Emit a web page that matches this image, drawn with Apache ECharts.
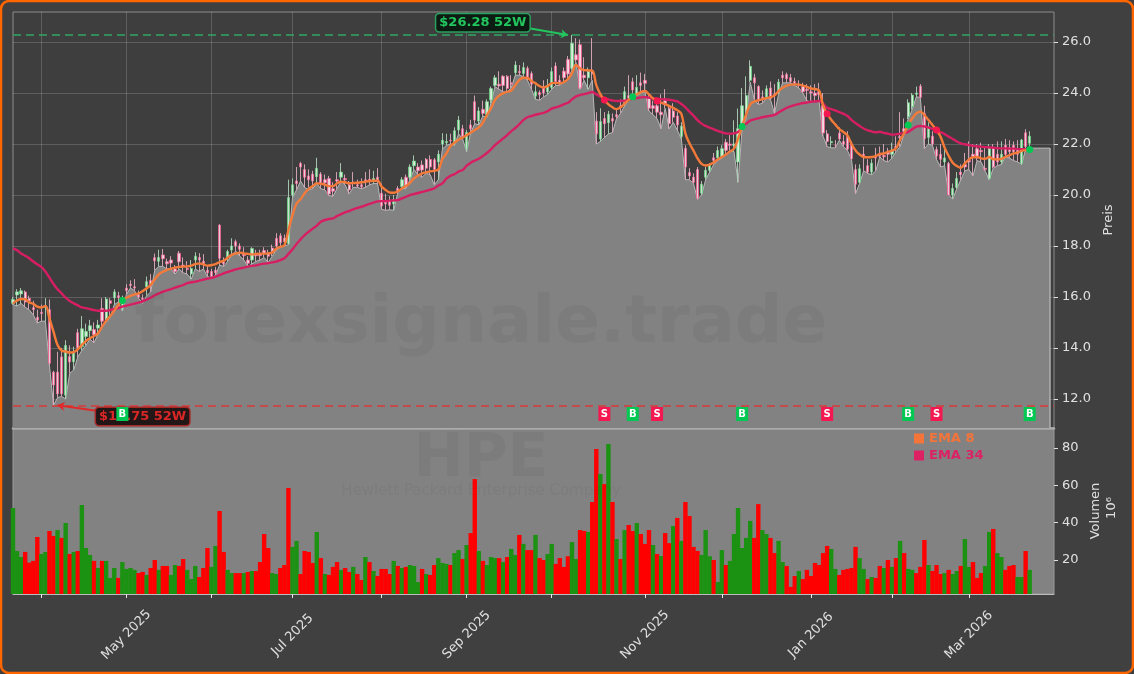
<!DOCTYPE html>
<html><head><meta charset="utf-8">
<style>html,body{margin:0;padding:0;background:#404040}#c{width:1134px;height:674px}</style>
<script src="https://cdn.jsdelivr.net/npm/echarts@6/dist/echarts.min.js"></script>
</head><body><div id="c"></div>
<script>
const monthTicks=[7,28,49,69,91,112,133,156,175,197,217,236];
const monthLabels={28:'May 2025',69:'Jul 2025',112:'Sep 2025',156:'Nov 2025',197:'Jan 2026',236:'Mar 2026'};
const priceTicks=[12,14,16,18,20,22,24,26];
const volumeTicks=[20,40,60,80];
const opens=[15.75,16.08,16.12,16.2,15.95,15.58,15.2,15.4,15.6,15.5,13.05,13.05,13.65,12.15,13.66,13.46,14.6,14.05,14.45,14.68,14.72,14.78,15.55,15.15,15.85,15.97,16.05,15.55,16.35,16.5,16.4,16.1,15.95,16.4,16.65,17.54,17.4,17.65,17.38,17.45,17.1,17.72,17.25,17.13,16.9,17.45,17.55,17.4,17.05,17.0,17.05,18.82,17.4,17.54,17.84,18.17,18.0,17.68,17.45,17.45,17.7,17.7,17.82,17.7,17.92,18.3,18.4,18.3,18.1,20.0,20.55,21.24,21.0,20.75,20.82,20.72,20.82,20.6,20.65,20.25,20.6,20.7,20.65,20.4,20.5,20.4,20.4,20.6,20.62,20.55,20.7,20.07,19.75,19.8,19.65,20.26,20.33,20.7,20.7,21.15,21.1,21.18,21.4,21.4,21.38,21.3,22.0,22.05,22.15,22.03,22.55,22.6,21.83,22.75,23.66,22.9,23.36,23.14,23.73,24.3,24.35,24.66,24.66,24.4,24.8,24.85,24.77,24.97,24.77,23.88,24.02,24.2,24.05,24.22,25.06,24.5,24.86,25.32,24.97,25.5,25.9,24.7,24.6,24.85,22.9,22.2,23.0,22.84,23.0,23.15,23.5,23.6,23.9,24.44,23.95,24.4,24.5,23.8,23.5,23.5,23.25,23.7,23.4,23.3,23.1,22.3,21.83,20.88,20.7,21.0,20.07,20.7,20.97,21.46,21.46,21.49,22.07,22.0,21.95,21.3,22.7,23.3,24.5,24.6,24.26,23.85,23.84,24.2,23.95,24.04,24.7,24.73,24.6,24.45,24.35,24.25,24.15,24.05,24.0,24.05,23.52,22.4,22.05,21.95,22.43,22.1,22.3,22.0,21.0,20.5,21.6,21.15,20.9,21.5,21.6,21.55,21.68,21.6,21.9,22.3,22.6,23.07,23.46,23.95,24.27,23.2,22.26,22.31,21.79,21.6,21.3,21.24,20.0,20.3,20.9,21.2,21.35,21.6,21.82,21.75,21.05,20.65,21.83,21.6,21.3,21.95,21.85,21.95,21.8,21.24,22.44,22.03];
const closes=[15.9,16.2,16.24,15.8,15.85,15.5,15.1,15.35,15.65,13.4,12.55,12.2,12.2,14.1,13.45,13.8,14.0,14.75,14.65,14.87,14.52,14.9,15.05,15.92,15.75,16.2,15.98,15.95,16.25,16.45,16.35,16.0,15.9,16.6,16.5,17.42,17.55,17.5,17.3,17.33,17.0,17.38,17.2,17.08,17.12,17.6,17.45,17.3,16.95,16.8,16.95,17.52,17.3,17.78,18.0,18.0,17.87,17.62,17.32,17.9,17.62,17.62,17.7,17.6,17.8,18.0,18.13,18.17,19.9,20.4,20.45,21.1,20.7,20.6,20.55,21.05,20.48,20.48,20.04,20.15,20.55,20.9,20.6,20.2,20.45,20.35,20.32,20.55,20.58,20.65,20.55,19.57,19.65,19.6,19.83,20.17,20.6,20.35,21.1,21.33,20.95,20.98,21.05,21.1,21.0,21.6,22.15,22.1,22.12,22.52,22.94,22.3,22.45,22.6,22.94,23.3,23.2,23.66,24.18,24.6,24.28,24.3,24.18,24.35,25.1,24.8,25.0,24.57,24.35,24.05,23.93,24.0,24.3,24.84,24.45,24.4,24.6,24.75,25.95,25.3,24.2,24.6,24.85,24.75,22.4,22.88,22.8,23.17,22.9,23.08,23.42,24.05,23.8,24.12,24.22,24.3,24.38,23.4,23.4,23.25,23.15,23.55,22.8,23.05,22.75,22.7,21.1,20.75,20.5,19.87,20.42,20.97,21.16,21.36,21.75,21.82,21.75,21.95,22.0,22.6,23.5,23.9,25.05,24.4,23.7,23.8,24.17,23.78,23.9,24.43,24.6,24.56,24.45,24.38,24.3,24.05,24.1,24.0,23.9,23.95,22.43,22.1,22.1,21.95,22.2,22.0,21.8,21.42,20.42,21.03,21.5,20.9,21.25,21.45,21.52,21.5,21.6,21.75,21.85,22.25,22.5,23.62,23.92,24.0,23.83,22.22,22.68,22.0,21.53,21.4,21.45,20.0,20.26,20.65,20.8,21.1,21.3,21.5,21.45,21.7,21.0,21.83,21.1,21.3,21.6,21.6,21.7,21.7,21.6,22.16,21.9,22.31];
const highs=[16.0,16.3,16.35,16.25,16.05,15.85,15.5,15.7,15.95,15.9,13.1,13.85,14.0,14.3,14.1,14.05,14.75,15.25,14.95,15.1,15.0,15.1,15.95,16.0,15.95,16.3,16.2,16.05,16.5,16.65,16.7,16.25,16.1,16.8,16.9,17.7,17.85,17.88,17.5,17.6,17.25,17.8,17.55,17.4,17.45,17.75,17.72,17.68,17.2,17.1,17.18,18.85,17.55,17.85,18.3,18.25,18.1,17.95,17.6,17.95,17.85,17.85,17.95,17.85,18.05,18.5,18.5,18.45,20.6,20.65,21.1,21.3,21.2,21.0,20.95,21.46,20.9,20.8,20.75,20.5,20.9,21.25,20.8,20.55,20.9,20.6,20.65,20.9,21.0,20.95,21.05,20.45,20.05,19.95,20.0,20.35,20.7,20.8,21.2,21.55,21.25,21.35,21.45,21.55,21.45,21.75,22.42,22.4,22.4,22.65,23.1,22.75,22.55,22.95,23.9,23.45,23.7,23.75,24.25,24.7,24.85,24.7,24.7,24.7,25.25,25.1,25.2,25.05,24.85,24.3,24.1,24.5,24.55,25.0,25.2,24.7,25.0,25.45,26.28,26.15,26.1,25.4,25.0,26.15,23.25,23.4,23.25,23.3,23.2,23.4,23.75,24.25,24.7,24.6,24.7,24.8,24.75,23.95,23.7,23.75,23.95,24.15,23.5,23.6,23.25,22.85,21.95,21.05,20.85,21.1,20.55,21.1,21.25,21.65,21.9,21.95,22.2,22.35,22.93,23.39,24.2,24.65,25.28,24.75,24.3,24.1,24.3,24.45,24.35,24.55,24.85,24.8,24.75,24.6,24.5,24.4,24.35,24.3,24.35,24.4,24.0,22.55,22.3,22.15,22.65,22.35,22.5,22.1,21.2,21.2,21.9,21.4,21.4,21.85,21.9,22.0,21.85,22.05,22.3,23.25,23.0,23.75,24.0,24.25,24.35,23.5,22.85,22.5,21.9,22.0,21.85,21.3,20.45,20.9,21.2,21.65,22.1,22.0,22.0,22.05,21.85,22.0,22.0,22.1,22.1,22.2,22.15,22.1,22.15,22.2,22.58,22.5];
const lows=[15.7,15.65,15.75,15.6,15.5,15.3,14.98,15.05,15.05,13.3,11.75,12.05,12.1,12.0,13.0,13.14,13.65,13.9,14.1,14.35,14.2,14.55,14.85,15.0,15.2,15.7,15.8,15.45,16.1,16.35,16.25,15.95,15.75,16.05,16.2,17.05,17.2,17.2,17.1,17.1,16.9,17.1,16.95,16.9,16.7,17.1,17.0,17.1,16.8,16.75,16.85,17.25,17.2,17.4,17.65,17.8,17.6,17.45,17.2,17.3,17.4,17.45,17.55,17.35,17.6,17.85,17.95,18.0,18.05,19.9,20.2,20.55,20.3,20.2,20.25,20.45,20.25,20.2,19.98,19.95,20.25,20.55,20.4,20.05,20.3,20.3,20.25,20.3,20.4,20.45,20.45,19.44,19.4,19.42,19.4,20.1,20.25,20.25,20.6,21.0,20.8,20.7,20.85,20.8,20.4,20.6,21.8,21.95,22.0,21.95,22.4,22.2,21.7,22.45,22.8,22.75,23.1,23.05,23.6,24.25,24.15,24.05,24.05,24.2,24.7,24.7,24.65,24.5,24.15,23.75,23.72,23.85,23.95,24.15,24.3,24.3,24.45,24.55,24.9,25.2,24.15,24.5,24.15,24.5,22.0,22.1,22.25,22.4,22.45,23.0,23.2,23.5,23.75,23.95,23.9,24.0,24.05,23.3,23.15,23.0,22.6,23.4,22.6,22.85,22.55,22.2,20.6,20.6,20.45,19.83,20.0,20.6,20.9,21.2,21.35,21.45,21.6,21.75,21.7,20.5,22.6,23.0,24.43,23.75,23.55,23.6,23.8,23.75,23.2,23.95,24.4,24.4,24.4,24.3,24.2,24.0,23.7,23.65,23.68,23.68,22.3,21.9,21.85,21.85,22.15,21.9,21.75,21.4,20.05,20.45,20.95,20.85,20.8,20.95,21.5,21.35,21.3,21.45,21.7,21.9,22.4,22.98,23.35,23.85,23.83,21.82,22.0,21.95,21.4,21.1,21.15,20.0,19.84,20.25,20.6,20.95,21.0,20.75,21.35,21.3,20.95,20.6,21.05,21.15,21.2,21.5,21.45,21.35,21.3,21.2,21.8,21.84];
const areaTail=[21.84,21.84,21.84,21.84,21.84];
const ema8=[15.75,15.86,15.92,15.91,15.79,15.73,15.62,15.59,15.65,15.16,14.64,14.12,13.9,13.86,13.82,13.84,13.95,14.12,14.27,14.38,14.47,14.58,14.84,15.07,15.25,15.46,15.69,15.86,15.97,16.04,16.1,16.14,16.23,16.34,16.47,16.69,16.89,16.99,17.06,17.11,17.15,17.18,17.19,17.2,17.23,17.29,17.32,17.28,17.23,17.25,17.29,17.37,17.42,17.54,17.65,17.71,17.74,17.71,17.69,17.67,17.69,17.7,17.7,17.71,17.74,17.9,17.97,18.03,18.63,19.2,19.67,19.83,20.07,20.24,20.35,20.46,20.44,20.41,20.35,20.35,20.46,20.52,20.5,20.46,20.47,20.48,20.5,20.52,20.55,20.56,20.56,20.33,20.2,20.1,20.09,20.14,20.26,20.35,20.48,20.65,20.76,20.85,20.89,20.93,20.95,21.0,21.4,21.63,21.92,22.05,22.18,22.25,22.35,22.44,22.55,22.65,22.84,23.14,23.4,23.73,23.9,23.99,24.05,24.1,24.31,24.51,24.6,24.59,24.47,24.38,24.27,24.22,24.27,24.39,24.4,24.38,24.43,24.54,24.77,25.1,24.97,24.9,24.89,24.88,24.31,23.96,23.73,23.56,23.44,23.37,23.44,23.59,23.73,23.86,23.95,24.04,24.08,23.95,23.79,23.69,23.62,23.57,23.49,23.42,23.33,23.18,22.42,22.03,21.74,21.44,21.22,21.16,21.19,21.28,21.4,21.49,21.59,21.71,21.82,22.21,22.69,23.16,23.56,23.67,23.71,23.76,23.8,23.84,23.91,24.08,24.21,24.29,24.33,24.34,24.33,24.29,24.24,24.18,24.16,24.1,23.52,23.19,22.95,22.77,22.59,22.47,22.34,22.01,21.75,21.59,21.49,21.48,21.49,21.53,21.61,21.63,21.69,21.74,21.83,22.16,22.42,22.75,23.0,23.2,23.27,23.14,22.94,22.75,22.55,22.29,21.86,21.53,21.27,21.14,21.07,21.24,21.4,21.48,21.49,21.44,21.42,21.49,21.41,21.4,21.42,21.5,21.56,21.63,21.66,21.73,21.76,21.79];
const ema34=[17.91,17.83,17.71,17.62,17.52,17.39,17.28,17.18,17.0,16.76,16.51,16.3,16.14,15.97,15.84,15.75,15.67,15.59,15.56,15.52,15.49,15.46,15.46,15.46,15.49,15.53,15.56,15.62,15.66,15.7,15.74,15.78,15.83,15.9,15.97,16.07,16.14,16.21,16.26,16.31,16.37,16.42,16.47,16.54,16.58,16.6,16.64,16.68,16.72,16.75,16.8,16.86,16.93,16.98,17.03,17.08,17.12,17.15,17.19,17.22,17.24,17.28,17.31,17.33,17.36,17.39,17.45,17.52,17.69,17.87,18.08,18.26,18.43,18.56,18.68,18.8,18.95,19.02,19.06,19.08,19.18,19.25,19.32,19.37,19.44,19.49,19.54,19.59,19.65,19.7,19.75,19.76,19.76,19.78,19.79,19.8,19.87,19.93,20.0,20.04,20.08,20.12,20.16,20.21,20.26,20.37,20.46,20.64,20.75,20.82,20.92,20.98,21.15,21.27,21.35,21.42,21.53,21.65,21.79,21.96,22.09,22.22,22.35,22.5,22.63,22.78,22.94,23.05,23.1,23.15,23.19,23.22,23.29,23.39,23.44,23.49,23.56,23.62,23.75,23.87,23.92,23.96,24.0,24.04,23.95,23.86,23.79,23.75,23.71,23.69,23.69,23.7,23.74,23.78,23.8,23.83,23.84,23.82,23.79,23.78,23.76,23.75,23.74,23.71,23.67,23.57,23.44,23.27,23.11,22.94,22.8,22.71,22.64,22.58,22.52,22.46,22.42,22.41,22.42,22.47,22.67,22.8,22.92,22.97,23.01,23.05,23.08,23.11,23.14,23.24,23.33,23.42,23.48,23.53,23.57,23.61,23.63,23.66,23.67,23.69,23.58,23.42,23.37,23.32,23.25,23.19,23.1,22.95,22.82,22.71,22.61,22.54,22.5,22.46,22.48,22.44,22.41,22.37,22.38,22.41,22.43,22.48,22.58,22.68,22.71,22.69,22.65,22.6,22.55,22.47,22.39,22.29,22.2,22.1,22.03,21.99,21.96,21.93,21.91,21.9,21.88,21.87,21.86,21.84,21.83,21.83,21.82,21.82,21.8,21.8,21.8,21.79];
const volumes=[47.8,24.8,21.6,24.3,18.6,19.5,32.3,23.2,24.3,35.5,32.8,36,31.8,39.8,23.2,24.3,24.8,49.4,26.4,22.7,19.5,15.7,19.5,19.5,10.4,15.7,10.4,18.9,15.2,15.7,14.7,13,13.6,12,15.7,20,14.7,16.8,16.8,12,17.3,16.8,20.5,14.7,9.8,16.8,10.9,15.7,26.4,16.3,27.5,46.2,24.3,14.7,13,13,13,13,13.6,14.1,14.1,18.9,33.9,26.4,13,12.5,15.7,17.3,58.5,27,30.2,12.5,24.8,24.3,18.4,35,21,12.5,12,16.3,18.9,14.7,15.7,13.6,16.3,12.5,9.3,21.6,18.9,14.1,11.4,15.2,15.2,12.5,19.5,16.8,15.7,16.3,17.3,16.8,8.2,15.2,12.5,12,17.3,21,18.4,17.9,17.3,23.7,25.3,20.5,28,34.4,63.3,24.8,19.5,17.3,21.6,21,21,18.9,21.6,25.9,22.7,33.4,28.6,25.3,25.3,33.4,21,20,23.2,28.6,17.9,21,16.3,22,29.6,20.5,36,35.5,35,51,79.4,66,60.6,82,51,31.2,20.5,36,38.7,35.5,39.8,33.9,28.6,36,28,23.2,22.1,34.4,29,38.2,42.5,30.2,51,43.5,27,24.8,22.7,36,22,20,8.2,25.3,17.3,19.5,33.9,47.8,26.4,31.8,40.9,31.8,49.9,36,33.9,31.8,23.7,30.2,18.9,16.8,5.6,11.4,14.1,9.8,14.7,11.4,18.4,17.3,23.7,27.5,25.9,15.2,12,14.7,15.2,15.7,27,21,15.2,9.8,10.9,10.4,16.8,15.7,20,16.3,21,30.2,23.7,15.2,14.7,13,16.3,30.7,17.3,14.1,17.3,12.5,13,14.7,12.5,14.1,16.8,31.2,16.3,18.9,10.4,13,16.8,35,36.6,23.7,21.6,14.7,16.8,17.3,10.9,10.9,24.8,14.7];
const volumeSides='gggrrrrggr'+'rgrgrgrggg'+'rgrgggrggg'+'grrgrrgrrg'+'grrgggrrrg'+'grrggrrgrg'+'rrrrggrrrg'+'grrrrgrgrr'+'rgrrgrrgrg'+'rrrrgrgrgg'+'grgrrgggrg'+'grgrrgrggg'+'rgrggrgrrg'+'rrggrrrrgg'+'rrgrrgrgrg'+'rgrrgrrrgr'+'grrgrgrrrr'+'gggrggrggg'+'gggrrggrrg'+'grrrgrrrrr'+'rrggrrrrrg'+'grgrrgrgrg'+'rggrrrgrrr'+'grggrggrrr'+'ggrggrrrgg'+'rg';
const signalIdx=[27,146,153,159,180,201,221,228,251];
const signalSide=['B','S','B','S','B','S','B','S','B'];
const signalRow=11.41;
const high52=26.28, low52=11.75;

const FONT='"DejaVu Sans"';
const categories=Array.from({length:258},(_,i)=>String(i));
const ohlc=opens.map((o,i)=>[o,closes[i],lows[i],highs[i]]);
const GREEN='#00c853', RED='#f5174f';
const option={
 animation:false,backgroundColor:'#404040',textStyle:{fontFamily:FONT},
 grid:[
  {left:13,top:12,width:1041,height:416,show:true,backgroundColor:'#3e3e3e',borderColor:'#8c8c8c',borderWidth:1},
  {left:13,top:428,width:1041,height:166,show:true,backgroundColor:'#828282',borderColor:'#9a9a9a',borderWidth:1}
 ],
 xAxis:[
  {type:'category',gridIndex:0,data:categories,boundaryGap:false,
   axisLine:{show:true,lineStyle:{color:'#ababab',width:2.5}},axisTick:{show:false},axisLabel:{show:false},
   splitLine:{show:true,interval:(i)=>monthTicks.includes(i),lineStyle:{color:'rgba(255,255,255,0.17)',width:1}}},
  {type:'category',gridIndex:1,data:categories,boundaryGap:false,
   axisLine:{show:true,lineStyle:{color:'#bbb',width:1}},
   axisTick:{show:true,interval:(i)=>monthTicks.includes(i),length:4,lineStyle:{color:'#e8e8e8'}},
   axisLabel:{show:true,interval:(i)=>i in monthLabels,formatter:(v,i)=>monthLabels[i]||'',rotate:45,align:'center',verticalAlign:'middle',margin:41,color:'#e0e0e0',fontSize:13,fontFamily:FONT},
   splitLine:{show:false}}
 ],
 yAxis:[
  {type:'value',gridIndex:0,position:'right',min:10.86,max:27.18,
   name:'Preis',nameLocation:'middle',nameRotate:90,nameGap:44,nameTextStyle:{color:'#e0e0e0',fontSize:13,fontFamily:FONT},
   axisLine:{show:false},axisTick:{show:true,customValues:priceTicks,length:4,lineStyle:{color:'#e0e0e0'}},
   axisLabel:{customValues:priceTicks,formatter:(v)=>v.toFixed(1),color:'#e0e0e0',fontSize:13,margin:8,fontFamily:FONT},
   splitLine:{show:true,lineStyle:{color:'rgba(255,255,255,0.17)',width:1}}},
  {type:'value',gridIndex:1,position:'right',min:1.8,max:90.6,
   name:'Volumen',nameLocation:'middle',nameRotate:90,nameGap:31,nameTextStyle:{color:'#e0e0e0',fontSize:13,fontFamily:FONT},
   axisLine:{show:false},axisTick:{show:true,customValues:volumeTicks,length:4,lineStyle:{color:'#e0e0e0'}},
   axisLabel:{customValues:volumeTicks,formatter:(v)=>String(v),color:'#e0e0e0',fontSize:13,margin:8,fontFamily:FONT},
   splitLine:{show:false}}
 ],
 legend:{show:true,orient:'vertical',left:914,top:432,itemWidth:10,itemHeight:10,itemGap:4,icon:'rect',
  data:['EMA 8','EMA 34'],textStyle:{color:'inherit',fontWeight:'bold',fontSize:13,fontFamily:FONT},selectedMode:false,padding:0},
 series:[
  {name:'Low',type:'line',xAxisIndex:0,yAxisIndex:0,data:lows.concat(areaTail),showSymbol:false,symbol:'none',z:1,
   lineStyle:{color:'#b8b8b8',width:1},itemStyle:{color:'#b8b8b8'},areaStyle:{color:'#828282',opacity:1,origin:'start'},
   markLine:{silent:true,symbol:'none',label:{show:false},animation:false,data:[
     {yAxis:high52,lineStyle:{color:'#2fa866',type:[8,5],width:1.5}},
     {yAxis:low52,lineStyle:{color:'#d93a3a',type:[8,5],width:1.5}},
     [{coord:[256,21.84],lineStyle:{color:'#b0b0b0',type:'solid',width:1.5}},{coord:[256,10.86]}],
     [{coord:[127,26.55],symbol:'none',lineStyle:{color:'#22c55e',type:'solid',width:2}},{coord:[137,26.28],symbol:'arrow',symbolSize:7}],
     [{coord:[21,11.53],symbol:'none',lineStyle:{color:'#e02a2a',type:'solid',width:2}},{coord:[11,11.75],symbol:'arrow',symbolSize:7}]
   ]},
   markPoint:{silent:true,symbol:'circle',symbolSize:1,itemStyle:{color:'transparent'},animation:false,data:[
     {coord:[116,26.76],label:{show:true,position:'inside',formatter:'$26.28 52W',color:'#22c55e',fontWeight:'bold',fontSize:13,fontFamily:FONT,backgroundColor:'#0c1c12',borderColor:'#2aa05e',borderWidth:1.5,borderRadius:3,padding:[2,3,2,3]}},
     {coord:[32,11.31],label:{show:true,position:'inside',formatter:'$11.75 52W',color:'#d92626',fontWeight:'bold',fontSize:13,fontFamily:FONT,backgroundColor:'#221616',borderColor:'#a82828',borderWidth:1.5,borderRadius:3,padding:[2,3,2,3]}}
   ]}},
  {name:'Candles',type:'candlestick',xAxisIndex:0,yAxisIndex:0,data:ohlc,barWidth:2.8,z:2,
   itemStyle:{color:'#d2f5d6',color0:'#ffd2e2',borderColor:'#66cf80',borderColor0:'#f05a8e',borderWidth:0.8}},
  {name:'Wicks',type:'candlestick',xAxisIndex:0,yAxisIndex:0,data:ohlc,barWidth:1,z:3,
   itemStyle:{color:'#cfcfcf',color0:'#cfcfcf',borderColor:'#cfcfcf',borderColor0:'#cfcfcf',borderWidth:0.8,opacity:0.8}},
  {name:'EMA 34',type:'line',xAxisIndex:0,yAxisIndex:0,data:ema34,showSymbol:false,symbol:'none',smooth:0.4,z:4,
   lineStyle:{color:'#d81e63',width:2.4},itemStyle:{color:'#dd2264'}},
  {name:'EMA 8',type:'line',xAxisIndex:0,yAxisIndex:0,data:ema8,showSymbol:false,symbol:'none',smooth:0.4,z:5,
   lineStyle:{color:'#f47a3a',width:2.4},itemStyle:{color:'#f4743a'}},
  {name:'Crosses',type:'scatter',xAxisIndex:0,yAxisIndex:0,symbol:'circle',symbolSize:7,z:6,
   data:signalIdx.map((k,n)=>({value:[k,ema8[k]],itemStyle:{opacity:1,color:signalSide[n]==='B'?GREEN:RED}}))},
  {name:'Signals',type:'scatter',xAxisIndex:0,yAxisIndex:0,symbol:'rect',symbolSize:[12,14],z:7,
   data:signalIdx.map((k,n)=>({value:[k,signalRow],itemStyle:{opacity:1,color:signalSide[n]==='B'?GREEN:RED},
     label:{show:true,position:'inside',formatter:signalSide[n],color:'#fff',fontWeight:'bold',fontSize:10,fontFamily:FONT}}))},
  {name:'Volume',type:'bar',xAxisIndex:1,yAxisIndex:1,barWidth:4.4,z:2,
   data:volumes.map((v,i)=>({value:v,itemStyle:{color:volumeSides[i]==='g'?'#1c9212':'#ff0000'}}))}
 ],
 graphic:[
  {type:'text',silent:true,z:20,x:481,y:325,style:{text:'forexsignale.trade',fill:'rgba(0,0,0,0.045)',font:'bold 66.5px "DejaVu Sans"',textAlign:'center',textVerticalAlign:'middle'}},
  {type:'text',silent:true,z:20,x:481,y:460,style:{text:'HPE',fill:'rgba(0,0,0,0.045)',font:'bold 60px "DejaVu Sans"',textAlign:'center',textVerticalAlign:'middle'}},
  {type:'text',silent:true,z:20,x:481,y:491,style:{text:'Hewlett Packard Enterprise Company',fill:'rgba(0,0,0,0.045)',font:'15px "DejaVu Sans"',textAlign:'center',textVerticalAlign:'middle'}},
  {type:'text',silent:true,z:20,rotation:Math.PI/2,x:1112,y:508,style:{text:'10⁶',fill:'#e0e0e0',font:'13px "DejaVu Sans"',textAlign:'center',textVerticalAlign:'middle'}},
  {type:'rect',silent:true,z:30,shape:{x:1,y:1,width:1132,height:672,r:8},style:{fill:'none',stroke:'#ff6600',lineWidth:2.5}}
 ]
};
echarts.init(document.getElementById('c'),null,{renderer:'canvas'}).setOption(option);
</script></body></html>
